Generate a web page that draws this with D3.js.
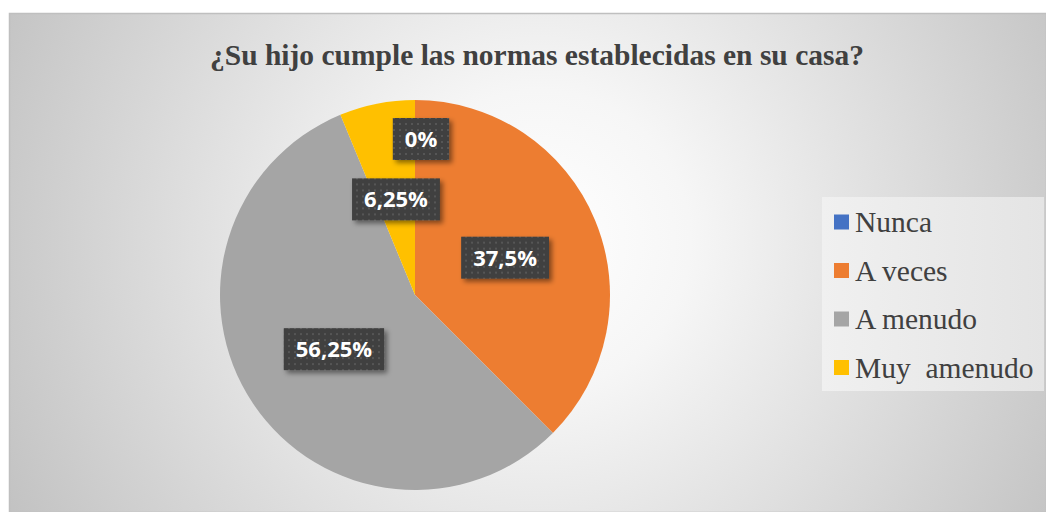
<!DOCTYPE html>
<html lang="en">
<head>
<meta charset="utf-8">
<script type="text/javascript" src="https://cdnjs.cloudflare.com/ajax/libs/d3/7.8.5/d3.min.js"></script>
<style>
body { margin: 0; background: #fff; }
svg { display: block; }
.serif { font-family: "Liberation Serif", "DejaVu Serif", serif; }
</style>
</head>
<body>
<script type="text/javascript">
    var categories = ["Nunca", "A veces", "A menudo", "Muy  amenudo"]
    var values = [0, 37.5, 56.25, 6.25]
    var labels = ["0%", "37,5%", "56,25%", "6,25%"]
    var colors = ["#4472C4", "#ED7D31", "#A5A5A5", "#FFC000"]
    var title = "¿Su hijo cumple las normas establecidas en su casa?"

    var w = 1046
    var h = 512
    var cx = 415, cy = 295, r = 195

    var svg = d3.select("body").append("svg")
        .attr("width", w)
        .attr("height", h)

    var defs = svg.append("defs")

    var bg = defs.append("radialGradient")
        .attr("id", "bg")
        .attr("gradientUnits", "userSpaceOnUse")
        .attr("cx", 540).attr("cy", 240).attr("r", 600)
    bg.append("stop").attr("offset", "0").attr("stop-color", "#ffffff")
    bg.append("stop").attr("offset", "0.25").attr("stop-color", "#f6f6f6")
    bg.append("stop").attr("offset", "1").attr("stop-color", "#c2c2c2")

    var lg = defs.append("linearGradient")
        .attr("id", "lg")
        .attr("x1", "0").attr("x2", "1").attr("y1", "0").attr("y2", "0")
    lg.append("stop").attr("offset", "0").attr("stop-color", "#f0f0f0")
    lg.append("stop").attr("offset", "1").attr("stop-color", "#e4e4e4")

    // dotted fill for the label boxes
    var pat = defs.append("pattern")
        .attr("id", "dots")
        .attr("patternUnits", "userSpaceOnUse")
        .attr("width", 6).attr("height", 6)
    pat.append("rect").attr("width", 6).attr("height", 6).attr("fill", "#3f3f3f")
    pat.append("rect").attr("x", 2).attr("y", 2).attr("width", 2).attr("height", 2).attr("fill", "#575757")

    var shadow = defs.append("filter")
        .attr("id", "shadow")
        .attr("x", "-20%").attr("y", "-20%").attr("width", "150%").attr("height", "160%")
    shadow.append("feDropShadow")
        .attr("dx", 3).attr("dy", 3).attr("stdDeviation", 2.5)
        .attr("flood-color", "#000").attr("flood-opacity", 0.45)

    // chart area
    svg.append("rect")
        .attr("x", 9.5).attr("y", 13.5)
        .attr("width", w - 9).attr("height", h - 13)
        .attr("fill", "url(#bg)")
        .attr("stroke", "#bfbfbf")
        .attr("stroke-width", 1.5)

    svg.append("text")
        .attr("class", "serif")
        .attr("x", 537)
        .attr("y", 65)
        .attr("text-anchor", "middle")
        .attr("font-weight", "bold")
        .attr("font-size", "29.5px")
        .attr("fill", "#404040")
        .text(title)

    var pie = d3.pie().sort(null).value(function(d) { return d })
    var arcs = pie(values)
    var arc = d3.arc().innerRadius(0).outerRadius(r)
    var labelArc = d3.arc().innerRadius(r * 0.5).outerRadius(r * 0.5)
    var zeroArc = d3.arc().innerRadius(r * 0.8).outerRadius(r * 0.8)

    var g = svg.append("g").attr("transform", "translate(" + cx + "," + cy + ")")

    g.selectAll("path")
        .data(arcs)
        .enter()
        .append("path")
        .attr("d", arc)
        .attr("fill", function(d, i) { return colors[i] })

    var lab = g.selectAll("g.lab")
        .data(arcs)
        .enter()
        .append("g")
        .attr("class", "lab")
        .attr("transform", function(d) {
            var c = d.value === 0 ? zeroArc.centroid(d) : labelArc.centroid(d)
            // excel nudges the empty slice label off the slice edge
            if (d.value === 0) c[0] += 6
            return "translate(" + c[0] + "," + c[1] + ")"
        })

    var boxes = lab.append("rect")
        .attr("fill", "url(#dots)")
        .attr("filter", "url(#shadow)")

    var texts = lab.append("text")
        .attr("text-anchor", "middle")
        .attr("dy", "0.36em")
        .attr("font-family", "Open Sans, sans-serif")
        .attr("font-weight", "bold")
        .attr("font-size", "22px")
        .attr("fill", "#ffffff")
        .text(function(d, i) { return labels[i] })

    texts.each(function(d, i) {
        var bw = this.getComputedTextLength() + 24
        d3.select(boxes.nodes()[i])
            .attr("x", -bw / 2).attr("y", -21)
            .attr("width", bw).attr("height", 42)
    })

    // legend
    var legX = 822, legY = 197
    svg.append("rect")
        .attr("x", legX).attr("y", legY)
        .attr("width", 222).attr("height", 194)
        .attr("fill", "url(#lg)")

    var leg = svg.selectAll("g.leg")
        .data(categories)
        .enter()
        .append("g")
        .attr("class", "leg")
        .attr("transform", function(d, i) {
            return "translate(" + (legX + 12) + "," + (legY + 25 + i * 48.5) + ")"
        })

    leg.append("rect")
        .attr("x", 0).attr("y", -7.5)
        .attr("width", 15).attr("height", 15)
        .attr("fill", function(d, i) { return colors[i] })

    leg.append("text")
        .attr("class", "serif")
        .attr("x", 21)
        .attr("y", 10)
        .attr("font-size", "29.5px")
        .attr("fill", "#404040")
        .style("white-space", "pre")
        .text(function(d) { return d })
</script>
</body>
</html>
